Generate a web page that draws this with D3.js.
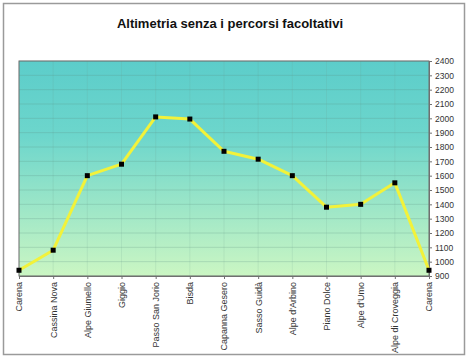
<!DOCTYPE html>
<html><head><meta charset="utf-8">
<script src="https://cdn.jsdelivr.net/npm/d3@7"></script>
<style>body{margin:0;background:#fff}svg{display:block}text{font-family:"Liberation Sans",Arial,sans-serif}</style>
</head><body>
<script>
const title = "Altimetria senza i percorsi facoltativi";
const categories = ["Carena","Cassina Nova","Alpe Giumello","Giggio","Passo San Jorio","Bisda","Capanna Gesero","Sasso Guidà","Alpe d'Arbino","Piano Dolce","Alpe d'Umo","Alpe di Croveggia","Carena"];
const altitudes = [940,1080,1600,1680,2010,1995,1770,1715,1600,1380,1400,1550,940];
const yTicks = [900,1000,1100,1200,1300,1400,1500,1600,1700,1800,1900,2000,2100,2200,2300,2400];

const W=468,H=359;
const svg=d3.select("body").append("svg").attr("width",W).attr("height",H);
svg.append("rect").attr("x",3.5).attr("y",3.5).attr("width",461).attr("height",351)
  .attr("fill","#fff").attr("stroke","#9a9a9a").attr("stroke-width",1.5);
svg.append("text").attr("x",230).attr("y",28).attr("text-anchor","middle")
  .attr("font-size",13).attr("font-weight","bold").attr("fill","#111").text(title);

const L=19,R=429,T=61,B=276;
const x=d3.scalePoint().domain(d3.range(categories.length)).range([L,R]);
const y=d3.scaleLinear().domain([900,2400]).range([B,T]);

const defs=svg.append("defs");
const g=defs.append("linearGradient").attr("id","bg").attr("x1",0).attr("y1",0).attr("x2",0).attr("y2",1);
g.append("stop").attr("offset","0").attr("stop-color","#5ccdca");
g.append("stop").attr("offset","0.35").attr("stop-color","#6dd6cc");
g.append("stop").attr("offset","1").attr("stop-color","#cbf6c3");
svg.append("rect").attr("x",L).attr("y",T).attr("width",R-L).attr("height",B-T).attr("fill","url(#bg)");

// gridlines
svg.append("g").selectAll("line").data(yTicks).join("line")
  .attr("x1",L).attr("x2",R).attr("y1",d=>y(d)).attr("y2",d=>y(d))
  .attr("stroke","#5a8a80").attr("stroke-opacity",0.35).attr("stroke-width",0.7);
svg.append("g").selectAll("line").data(d3.range(categories.length)).join("line")
  .attr("x1",d=>x(d)).attr("x2",d=>x(d)).attr("y1",T).attr("y2",B)
  .attr("stroke","#6a9a90").attr("stroke-opacity",0.25).attr("stroke-width",0.6);

svg.append("rect").attr("x",L).attr("y",T).attr("width",R-L).attr("height",B-T)
  .attr("fill","none").attr("stroke","#707070").attr("stroke-width",1);

// right axis
const ya=svg.append("g").attr("transform",`translate(${R},0)`)
  .call(d3.axisRight(y).tickValues(yTicks).tickFormat(d3.format("d")).tickSize(3).tickPadding(3));
ya.select(".domain").attr("stroke","#707070");
ya.selectAll("line").attr("stroke","#707070");
ya.selectAll("text").attr("font-size",8.5).attr("fill","#333");

// bottom axis
const xa=svg.append("g").attr("transform",`translate(0,${B})`)
  .call(d3.axisBottom(x).tickSize(3).tickFormat(i=>categories[i]));
xa.select(".domain").attr("stroke","#707070");
xa.selectAll("line").attr("stroke","#707070");
xa.selectAll("text").attr("font-size",9).attr("fill","#333")
  .attr("transform","rotate(-90)").attr("text-anchor","end")
  .attr("x",-6).attr("y",0).attr("dy","0.32em");

// line
svg.append("path").datum(altitudes)
  .attr("d",d3.line().x((d,i)=>x(i)).y(d=>y(d)))
  .attr("fill","none").attr("stroke","#f2f23a").attr("stroke-width",3).attr("stroke-linejoin","round");
svg.append("g").selectAll("rect").data(altitudes).join("rect")
  .attr("x",(d,i)=>x(i)-2.5).attr("y",d=>y(d)-2.5).attr("width",5).attr("height",5).attr("fill","#000");
</script>
</body></html>
